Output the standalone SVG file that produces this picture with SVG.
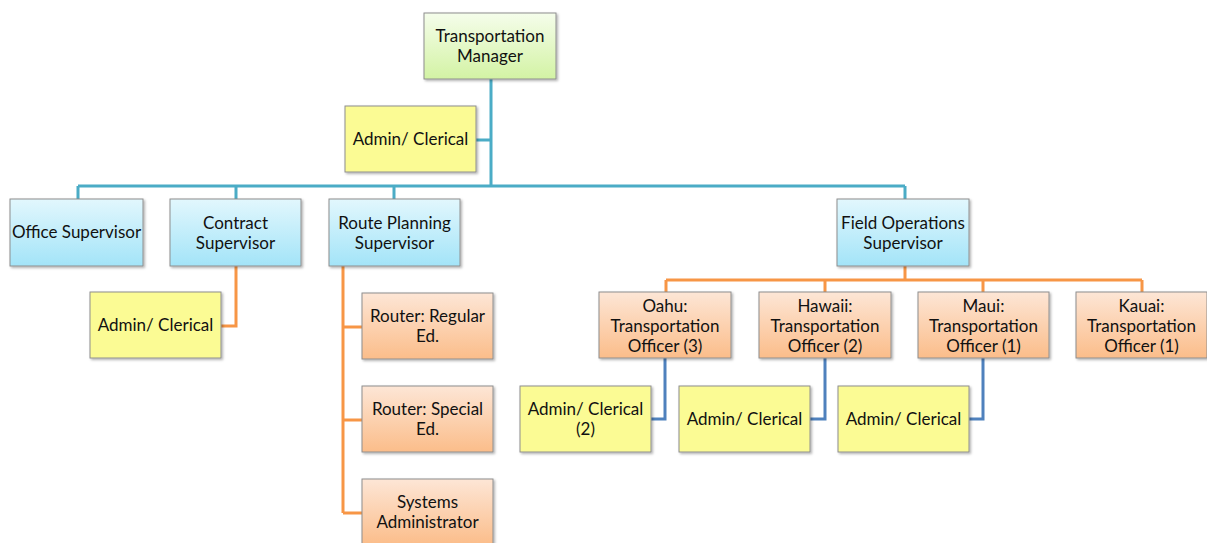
<svg xmlns="http://www.w3.org/2000/svg" width="1207" height="543" viewBox="0 0 1207 543">
<defs>
<linearGradient id="gGreen" x1="0" y1="0" x2="0" y2="1"><stop offset="0" stop-color="#f5fdeb"/><stop offset="1" stop-color="#d3f3a4"/></linearGradient>
<linearGradient id="gBlue" x1="0" y1="0" x2="0" y2="1"><stop offset="0" stop-color="#e2f7fd"/><stop offset="1" stop-color="#a3e4f8"/></linearGradient>
<linearGradient id="gOrange" x1="0" y1="0" x2="0" y2="1"><stop offset="0" stop-color="#fde6d6"/><stop offset="1" stop-color="#fbbd8a"/></linearGradient>
<filter id="sh" x="-10%" y="-10%" width="130%" height="130%"><feDropShadow dx="1.5" dy="1.5" stdDeviation="1" flood-color="#000" flood-opacity="0.3"/></filter>
<style>
rect{stroke:#8e8e8e;stroke-width:1;filter:url(#sh)}
.green{fill:url(#gGreen)}
.blue{fill:url(#gBlue)}
.orange{fill:url(#gOrange)}
.yellow{fill:#fbfb94}
text{font-family:Lato,"Open Sans","Liberation Sans",sans-serif;font-size:17px;fill:#111;text-anchor:middle}
.c1{fill:none;stroke:#4bacc6;stroke-width:3}
.c2{fill:none;stroke:#f79646;stroke-width:3}
.c3{fill:none;stroke:#4f81bd;stroke-width:3}
</style>
</defs>
<rect width="1207" height="543" fill="#fff" style="stroke:none;filter:none"/>
<g id="connectors">
<path class="c1" d="M491 79V186M476 140H491M78 186H905M78 186V199M236 186V199M394 186V199M905 186V199"/>
<path class="c2" d="M236 266V326H221M343 266V513M343 327H362M343 420H362M343 513H362M905 266V280M666 280H1142M666 280V292M825 280V292M983 280V292M1142 280V292"/>
<path class="c3" d="M665 358V419H651M825 358V419H810M983 358V419H969"/>
</g>
<g id="manager"><rect class="green" x="424" y="13" width="132" height="66"/><text x="490" y="42">Transportation</text><text x="490" y="62">Manager</text></g>
<g id="admin-top"><rect class="yellow" x="345" y="106" width="131" height="66"/><text x="410.500" y="145">Admin/ Clerical</text></g>
<g id="office"><rect class="blue" x="10" y="199" width="133" height="67"/><text x="76.500" y="238">Office Supervisor</text></g>
<g id="contract"><rect class="blue" x="170" y="199" width="131" height="67"/><text x="235.500" y="229">Contract</text><text x="235.500" y="249">Supervisor</text></g>
<g id="route"><rect class="blue" x="329" y="199" width="131" height="67"/><text x="394.500" y="229">Route Planning</text><text x="394.500" y="249">Supervisor</text></g>
<g id="field"><rect class="blue" x="837" y="199" width="132" height="67"/><text x="903" y="229">Field Operations</text><text x="903" y="249">Supervisor</text></g>
<g id="admin-contract"><rect class="yellow" x="90" y="292" width="131" height="66"/><text x="155.500" y="331">Admin/ Clerical</text></g>
<g id="router-regular"><rect class="orange" x="362" y="293" width="131" height="66"/><text x="427.500" y="322">Router: Regular</text><text x="427.500" y="342">Ed.</text></g>
<g id="router-special"><rect class="orange" x="362" y="386" width="131" height="66"/><text x="427.500" y="415">Router: Special</text><text x="427.500" y="435">Ed.</text></g>
<g id="sysadmin"><rect class="orange" x="362" y="479" width="131" height="66"/><text x="427.500" y="508">Systems</text><text x="427.500" y="528">Administrator</text></g>
<g id="oahu"><rect class="orange" x="599" y="292" width="132" height="66"/><text x="665" y="312">Oahu:</text><text x="665" y="332">Transportation</text><text x="665" y="352">Officer (3)</text></g>
<g id="hawaii"><rect class="orange" x="759" y="292" width="132" height="66"/><text x="825" y="312">Hawaii:</text><text x="825" y="332">Transportation</text><text x="825" y="352">Officer (2)</text></g>
<g id="maui"><rect class="orange" x="918" y="292" width="131" height="66"/><text x="983.500" y="312">Maui:</text><text x="983.500" y="332">Transportation</text><text x="983.500" y="352">Officer (1)</text></g>
<g id="kauai"><rect class="orange" x="1076" y="292" width="131" height="66"/><text x="1141.500" y="312">Kauai:</text><text x="1141.500" y="332">Transportation</text><text x="1141.500" y="352">Officer (1)</text></g>
<g id="admin-oahu"><rect class="yellow" x="520" y="386" width="131" height="66"/><text x="585.500" y="415">Admin/ Clerical</text><text x="585.500" y="435">(2)</text></g>
<g id="admin-hawaii"><rect class="yellow" x="679" y="386" width="131" height="66"/><text x="744.500" y="425">Admin/ Clerical</text></g>
<g id="admin-maui"><rect class="yellow" x="838" y="386" width="131" height="66"/><text x="903.500" y="425">Admin/ Clerical</text></g>
</svg>
